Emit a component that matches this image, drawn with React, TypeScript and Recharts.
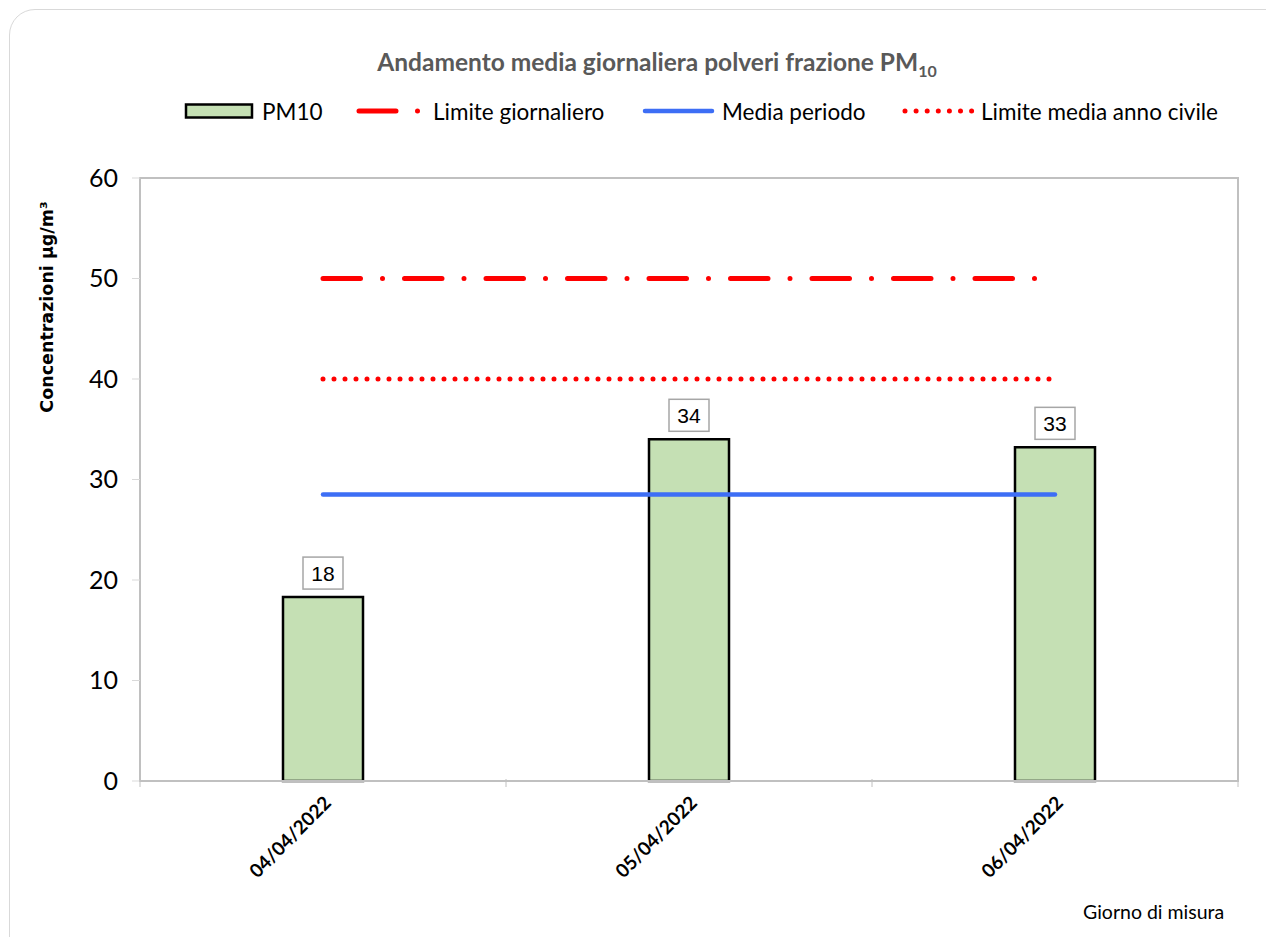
import React from "react";
import {
  ComposedChart,
  Bar,
  Line,
  XAxis,
  YAxis,
  LabelList,
  ReferenceArea,
} from "recharts";

const DAYS = ["04/04/2022", "05/04/2022", "06/04/2022"];
const PM10 = [18.3, 34.0, 33.2];
const LIMITE_GIORNALIERO = [50, 50, 50];
const MEDIA_PERIODO = [28.5, 28.5, 28.5];
const LIMITE_ANNO = [40, 40, 40];
const Y_TICKS = [0, 10, 20, 30, 40, 50, 60];

const data = DAYS.map((day, i) => ({
  day,
  pm10: PM10[i],
  limiteGiornaliero: LIMITE_GIORNALIERO[i],
  mediaPeriodo: MEDIA_PERIODO[i],
  limiteAnno: LIMITE_ANNO[i],
}));

const CALIBRI = "Lato, 'Open Sans', sans-serif";
const ARIAL = "'Liberation Sans', Arial, sans-serif";
const GREEN = "#c5e0b4";
const RED = "#ff0000";
const BLUE = "#3d6ef5";
const AXIS_GRAY = "#c0c0c0";

const RED_DASHDOT = "37.5 22 0 22";
const RED_DOTS = "0 11";

function DayTick(props: any) {
  const { x, y, payload, index } = props;
  const half = payload?.offset ?? 0;
  const last = index === DAYS.length - 1;
  return (
    <g>
      {half > 0 && (
        <line x1={x - half} x2={x - half} y1={y - 10} y2={y - 2} stroke={AXIS_GRAY} strokeWidth={1} />
      )}
      {half > 0 && last && (
        <line x1={x + half} x2={x + half} y1={y - 10} y2={y - 2} stroke={AXIS_GRAY} strokeWidth={1} />
      )}
      <g transform={`translate(${x + 5},${y + 11})`}>
        <text
          textAnchor="end"
          transform="rotate(-45)"
          fontFamily={CALIBRI}
          fontWeight={700}
          fontSize={19}
          fill="#000"
          dy={6}
        >
          {payload.value}
        </text>
      </g>
    </g>
  );
}

function ValueBox(props: any) {
  const { x, y, width, value } = props;
  const cx = x + width / 2;
  const w = 40;
  const h = 32;
  const bottom = y - 8;
  return (
    <g>
      <rect x={cx - w / 2} y={bottom - h} width={w} height={h} fill="#fff" stroke="#a6a6a6" strokeWidth={1.5} />
      <text
        x={cx}
        y={bottom - h / 2}
        textAnchor="middle"
        dominantBaseline="central"
        fontFamily={ARIAL}
        fontSize={21}
        fill="#000"
      >
        {Math.round(value)}
      </text>
    </g>
  );
}

function Legend() {
  const cy = 15;
  const txt = { fontFamily: CALIBRI, fontSize: 22.5, fill: "#000", dominantBaseline: "central" as const };
  return (
    <svg width={1266} height={30} style={{ position: "absolute", left: 0, top: 96 }}>
      <rect x={186} y={cy - 6.5} width={66} height={13} fill={GREEN} stroke="#000" strokeWidth={2.5} />
      <text x={262} y={cy} {...txt}>PM10</text>
      <line x1={359} x2={436} y1={cy} y2={cy} stroke={RED} strokeWidth={5} strokeLinecap="round" strokeDasharray="37 21.5 0 30" />
      <text x={433} y={cy} {...txt}>Limite giornaliero</text>
      <line x1={645} x2={712} y1={cy} y2={cy} stroke={BLUE} strokeWidth={4.5} strokeLinecap="round" />
      <text x={722} y={cy} {...txt}>Media periodo</text>
      <line x1={905} x2={972} y1={cy} y2={cy} stroke={RED} strokeWidth={5} strokeLinecap="round" strokeDasharray="0 11.1" />
      <text x={981} y={cy} {...txt}>Limite media anno civile</text>
    </svg>
  );
}

export default function App() {
  return (
    <div
      style={{
        position: "fixed",
        left: 0,
        top: 0,
        width: 1266,
        height: 937,
        overflow: "hidden",
        background: "#fff",
      }}
    >
      <div
        style={{
          position: "absolute",
          left: 9,
          top: 9,
          width: 1300,
          height: 1000,
          border: "1px solid #d9d9d9",
          borderRadius: 26,
        }}
      />
      <div
        style={{
          position: "absolute",
          left: 0,
          width: 1314,
          top: 47,
          textAlign: "center",
          fontFamily: CALIBRI,
          fontWeight: 700,
          fontSize: 24.5,
          color: "#595959",
          lineHeight: "30px",
        }}
      >
        Andamento media giornaliera polveri frazione PM
        <sub style={{ fontSize: 16 }}>10</sub>
      </div>
      <Legend />
      <div
        style={{
          position: "absolute",
          left: 47,
          top: 307,
          transform: "translate(-50%, -50%) rotate(-90deg)",
          fontFamily: "'DejaVu Sans', sans-serif",
          fontWeight: 700,
          fontSize: 17.5,
          color: "#000",
          whiteSpace: "nowrap",
        }}
      >
        Concentrazioni µg/m³
      </div>
      <div
        style={{
          position: "absolute",
          left: 1083,
          top: 900,
          fontFamily: CALIBRI,
          fontSize: 19.5,
          color: "#000",
        }}
      >
        Giorno di misura
      </div>
      <ComposedChart
        width={1266}
        height={937}
        data={data}
        margin={{ top: 178, right: 28, bottom: 56, left: 80 }}
        style={{ position: "absolute", left: 0, top: 0 }}
      >
        <XAxis
          dataKey="day"
          height={100}
          axisLine={{ stroke: AXIS_GRAY, strokeWidth: 2 }}
          tickLine={false}
          interval={0}
          tick={<DayTick />}
        />
        <YAxis
          domain={[0, 60]}
          ticks={Y_TICKS}
          width={60}
          axisLine={{ stroke: AXIS_GRAY, strokeWidth: 2 }}
          tickLine={{ stroke: "#d9d9d9", strokeWidth: 1 }}
          tickSize={8}
          tickMargin={14}
          tick={{ fontFamily: CALIBRI, fontSize: 25, fill: "#000" }}
        />
        <ReferenceArea y1={0} y2={60} fill="none" stroke={AXIS_GRAY} strokeWidth={2} ifOverflow="extendDomain" />
        <Bar
          dataKey="pm10"
          name="PM10"
          fill={GREEN}
          stroke="#000"
          strokeWidth={2.5}
          barSize={80}
          isAnimationActive={false}
        >
          <LabelList dataKey="pm10" content={<ValueBox />} />
        </Bar>
        <Line
          dataKey="limiteGiornaliero"
          name="Limite giornaliero"
          stroke={RED}
          strokeWidth={5}
          strokeDasharray={RED_DASHDOT}
          strokeLinecap="round"
          dot={false}
          activeDot={false}
          isAnimationActive={false}
        />
        <Line
          dataKey="limiteAnno"
          name="Limite media anno civile"
          stroke={RED}
          strokeWidth={5}
          strokeDasharray={RED_DOTS}
          strokeLinecap="round"
          dot={false}
          activeDot={false}
          isAnimationActive={false}
        />
        <Line
          dataKey="mediaPeriodo"
          name="Media periodo"
          stroke={BLUE}
          strokeWidth={4.5}
          strokeLinecap="round"
          dot={false}
          activeDot={false}
          isAnimationActive={false}
        />
      </ComposedChart>
    </div>
  );
}
